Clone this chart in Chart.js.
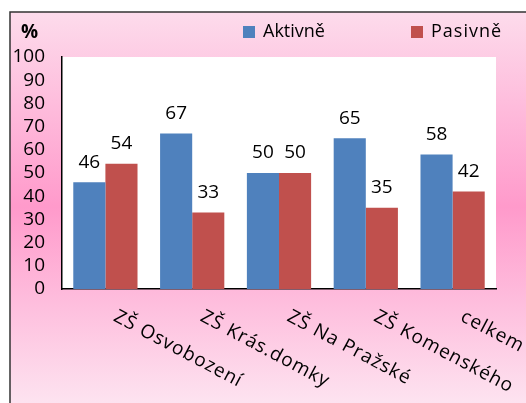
<!DOCTYPE html>
<html>
<head>
<meta charset="utf-8">
<script src="https://cdn.jsdelivr.net/npm/chart.js@4"></script>
<style>
  html, body { margin: 0; padding: 0; background: #fff; }
  #wrap { width: 526px; height: 403px; position: relative; }
</style>
</head>
<body>
<div id="wrap"><canvas id="chart" width="526" height="403"></canvas></div>
<script>
const categories = ["ZŠ Osvobození", "ZŠ Krás.domky", "ZŠ Na Pražské", "ZŠ Komenského", "celkem"];
const aktivne = [46, 67, 50, 65, 58];
const pasivne = [54, 33, 50, 35, 42];
const seriesNames = ["Aktivně", "Pasivně"];
const yTicks = [0, 10, 20, 30, 40, 50, 60, 70, 80, 90, 100];

const FONT = "'Open Sans', 'Noto Sans', sans-serif";

// background, frame, plot area, legend, labels
const decor = {
  id: "decor",
  beforeDraw(chart) {
    const { ctx, chartArea } = chart;
    ctx.save();
    ctx.fillStyle = "#fff";
    ctx.fillRect(0, 0, chart.width, chart.height);
    const g = ctx.createLinearGradient(0, 11, 0, 403);
    g.addColorStop(0, "#fddcec");
    g.addColorStop(0.5, "#ff9acb");
    g.addColorStop(1, "#fde3f0");
    ctx.fillStyle = g;
    ctx.fillRect(10, 12, chart.width, chart.height);
    ctx.strokeStyle = "#333";
    ctx.lineWidth = 1.5;
    ctx.strokeRect(10, 12, chart.width + 10, chart.height + 10);
    ctx.fillStyle = "#fff";
    ctx.fillRect(chartArea.left, chartArea.top, chartArea.right - chartArea.left, chartArea.bottom - chartArea.top);
    ctx.restore();
  },
  afterDraw(chart) {
    const { ctx } = chart;
    ctx.save();
    // "%" title
    ctx.fillStyle = "#000";
    ctx.font = "bold 19px " + FONT;
    ctx.textAlign = "left";
    ctx.textBaseline = "middle";
    ctx.fillText("%", 21, 33);

    // legend
    ctx.font = "18px " + FONT;
    const legendX = [243, 411];
    chart.data.datasets.forEach((ds, i) => {
      ctx.fillStyle = ds.backgroundColor;
      ctx.fillRect(legendX[i], 26, 12, 12);
      ctx.fillStyle = "#000";
      ctx.letterSpacing = i === 1 ? "1px" : "0px";
      ctx.fillText(ds.label, legendX[i] + 20, 32);
    });
    ctx.letterSpacing = "0px";

    // value labels
    ctx.font = "19px " + FONT;
    ctx.textAlign = "center";
    ctx.textBaseline = "middle";
    chart.data.datasets.forEach((ds, i) => {
      chart.getDatasetMeta(i).data.forEach((bar, j) => {
        ctx.fillText(String(ds.data[j]), bar.x, bar.y - 20);
      });
    });

    // rotated category labels
    const xs = chart.scales.x;
    ctx.textAlign = "left";
    ctx.textBaseline = "top";
    ctx.letterSpacing = "1px";
    categories.forEach((c, i) => {
      const px = xs.getPixelForValue(i);
      ctx.save();
      ctx.translate(px + 14, 307);
      ctx.rotate(28 * Math.PI / 180);
      ctx.fillText(c, 0, 0);
      ctx.restore();
    });
    ctx.restore();
  }
};

new Chart(document.getElementById("chart"), {
  type: "bar",
  data: {
    labels: categories,
    datasets: [
      { label: seriesNames[0], data: aktivne, backgroundColor: "#4f81bd" },
      { label: seriesNames[1], data: pasivne, backgroundColor: "#c0504d" }
    ]
  },
  options: {
    responsive: false,
    animation: false,
    events: [],
    layout: { padding: { left: 0, top: 57, right: 30, bottom: 0 } },
    datasets: { bar: { categoryPercentage: 0.74, barPercentage: 1.0 } },
    plugins: { legend: { display: false }, tooltip: { enabled: false } },
    scales: {
      x: {
        grid: { display: false, drawTicks: false },
        border: { display: true, color: "#000", width: 1.5 },
        ticks: { display: false },
        afterFit(s) { s.height = 403 - 289; }
      },
      y: {
        min: 0,
        max: 100,
        afterBuildTicks(s) { s.ticks = yTicks.map(v => ({ value: v })); },
        grid: { display: false, drawTicks: false },
        border: { display: true, color: "#000", width: 1.5 },
        ticks: { color: "#000", padding: 17, autoSkip: false, font: { family: FONT, size: 19 } },
        afterFit(s) { s.width = 62; }
      }
    }
  },
  plugins: [decor]
});
</script>
</body>
</html>
